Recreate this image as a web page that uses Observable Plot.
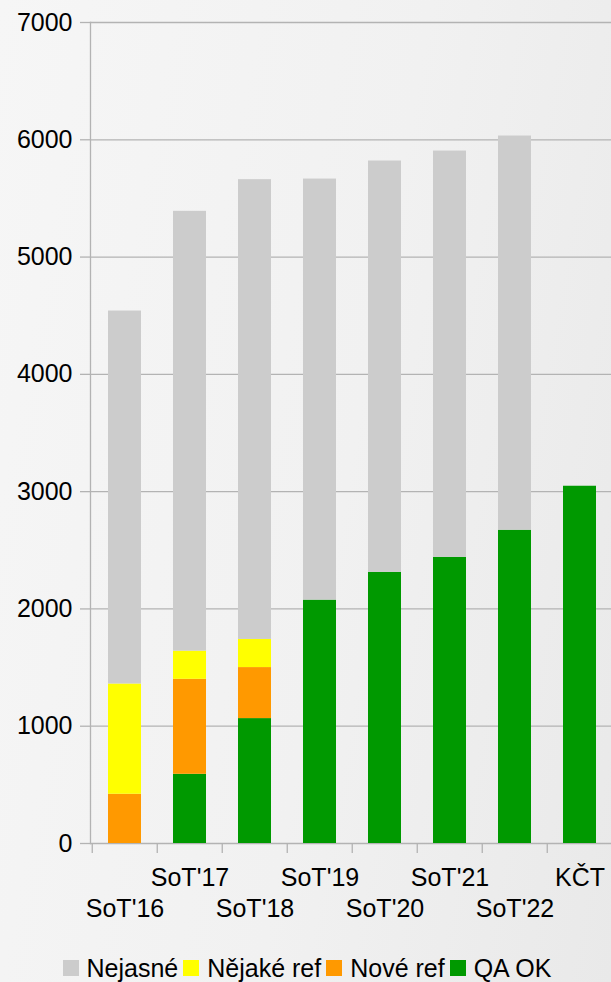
<!DOCTYPE html>
<html>
<head>
<meta charset="utf-8">
<script src="https://cdn.jsdelivr.net/npm/d3@7"></script>
<script src="https://cdn.jsdelivr.net/npm/@observablehq/plot@0.6"></script>
<style>
  html, body { margin: 0; padding: 0; }
  body {
    width: 611px; height: 982px; overflow: hidden;
    background: linear-gradient(100deg, #f6f6f6 0%, #f1f1f1 55%, #e9e9e9 100%);
    font-family: "Liberation Sans", Arial, sans-serif;
  }
  #chart svg { display: block; background: transparent; }
  #legend {
    height: 42px; display: flex; justify-content: center; align-items: center;
    font-size: 25px; color: #000; margin-top: 13px; margin-left: 8px;
  }
  #legend .item { display: flex; align-items: center; margin-right: 5px; }
  #legend .sw { width: 16px; height: 16px; margin-right: 8px; }
</style>
</head>
<body>
<div id="chart"></div>
<div id="legend"></div>
<script>
const categories = ["SoT'16", "SoT'17", "SoT'18", "SoT'19", "SoT'20", "SoT'21", "SoT'22", "KČT"];
const seriesNames = ["QA OK", "Nové ref", "Nějaké ref", "Nejasné"];
const seriesColors = ["#009900", "#ff9900", "#ffff00", "#cccccc"];
const qaOk      = [0,    590,  1065, 2075, 2312, 2440, 2671, 3046];
const noveRef   = [420,  810,  435,  0,    0,    0,    0,    0];
const nejakeRef = [940,  240,  240,  0,    0,    0,    0,    0];
const nejasne   = [3180, 3750, 3920, 3590, 3507, 3464, 3361, 0];
const yTicks = [0, 1000, 2000, 3000, 4000, 5000, 6000, 7000];
const legendOrder = ["Nejasné", "Nějaké ref", "Nové ref", "QA OK"];

const seriesValues = [qaOk, noveRef, nejakeRef, nejasne];
const rows = [];
seriesNames.forEach((s, si) => {
  categories.forEach((c, ci) => rows.push({cat: c, series: s, value: seriesValues[si][ci]}));
});

const gridColor = "#b3b3b3";
const step = (614 - 90) / categories.length;

const chart = Plot.plot({
  width: 611,
  height: 934,
  marginTop: 22,
  marginBottom: 91,
  marginLeft: 90,
  marginRight: 0,
  style: {fontFamily: "'Liberation Sans', Arial, sans-serif", fontSize: "25px", color: "#000", background: "transparent"},
  x: {domain: categories, range: [90, 614], paddingInner: 0.5, paddingOuter: 0.25, axis: null},
  y: {domain: [0, 7000], axis: null},
  color: {domain: seriesNames, range: seriesColors},
  marks: [
    Plot.gridY(yTicks, {stroke: gridColor, strokeOpacity: 1, strokeWidth: 1.3}),
    Plot.axisY(yTicks, {tickSize: 10, tickPadding: 8, stroke: gridColor, strokeOpacity: 1, strokeWidth: 1.3, tickFormat: d => String(d), fontSize: 25, fill: "#000", label: null}),
    Plot.frame({anchor: "left", stroke: gridColor, strokeOpacity: 1, strokeWidth: 1.3}),
    Plot.ruleX(categories, {x: d => d, dx: -step / 2, frameAnchor: "bottom", y1: null, insetBottom: -10, stroke: gridColor, strokeWidth: 1.3}),
    Plot.barY(rows, Plot.stackY({order: seriesNames}, {x: "cat", y: "value", fill: "series"})),
    Plot.text(categories.filter((d, i) => i % 2 === 1), {x: d => d, frameAnchor: "bottom", dy: 42, fontSize: 25, fill: "#000"}),
    Plot.text(categories.filter((d, i) => i % 2 === 0), {x: d => d, frameAnchor: "bottom", dy: 73, fontSize: 25, fill: "#000"})
  ]
});
document.getElementById("chart").appendChild(chart);

const legend = document.getElementById("legend");
legendOrder.forEach(name => {
  const item = document.createElement("div");
  item.className = "item";
  const sw = document.createElement("div");
  sw.className = "sw";
  sw.style.background = seriesColors[seriesNames.indexOf(name)];
  const lab = document.createElement("span");
  lab.textContent = name;
  item.appendChild(sw);
  item.appendChild(lab);
  legend.appendChild(item);
});
</script>
</body>
</html>
